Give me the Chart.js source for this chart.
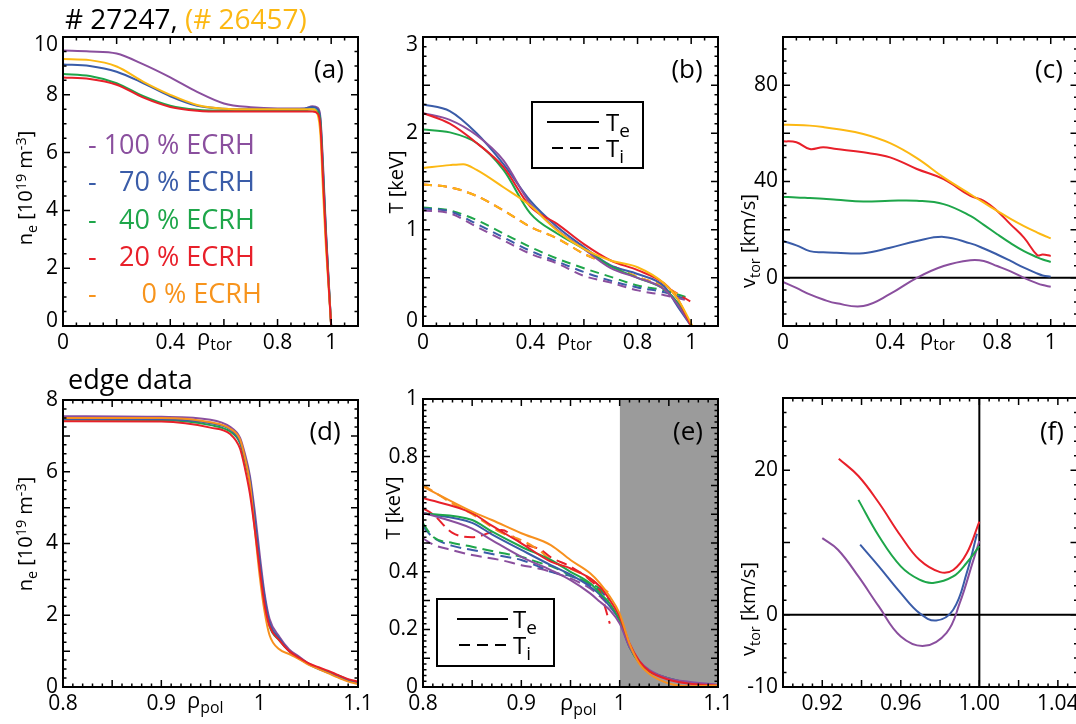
<!DOCTYPE html>
<html>
<head>
<meta charset="utf-8">
<script src="https://cdn.jsdelivr.net/npm/chart.js@4.4.0/dist/chart.umd.min.js"></script>
<style>
  body { margin: 0; background: #fff; }
  #fig { position: relative; width: 1076px; height: 724px; overflow: hidden; font-family: "Open Sans", sans-serif; color: #000; }
  #fig canvas { position: absolute; left: 0; top: 0; }
  .t { position: absolute; white-space: nowrap; line-height: 1; }
  .title { left: 65px; top: 18px; font-size: 28px; transform: translateY(-50%); }
  .tag { font-size: 26px; transform: translate(-50%, -50%); }
  .yt { font-size: 20px; transform: translate(-50%, -50%) rotate(-90deg); }
  .xt { font-size: 22px; }
  .sb { font-size: 0.72em; position: relative; top: 0.32em; }
  .sp { font-size: 0.72em; position: relative; top: -0.45em; }
  .lg { left: 88px; font-size: 27px; transform: translateY(-50%); white-space: pre; }
  .lg .d { display: inline-block; width: 14px; }
  .lg .n { display: inline-block; width: 48px; text-align: right; }
</style>
</head>
<body>
<div id="fig">
  <canvas id="cA" width="1080" height="724"></canvas>
  <canvas id="cB" width="1080" height="724"></canvas>
  <canvas id="cC" width="1080" height="724"></canvas>
  <canvas id="cD" width="1080" height="724"></canvas>
  <canvas id="cE" width="1080" height="724"></canvas>
  <canvas id="cF" width="1080" height="724"></canvas>

  <div class="t title"># 27247, <span style="color:#fcb813">(# 26457)</span></div>
  <div class="t title" style="left:68px;top:378px;font-size:27px">edge data</div>

  <div class="t lg" style="top:143px;color:#8a4f9e"><span class="d">-</span><span class="n">100</span> % ECRH</div>
  <div class="t lg" style="top:180px;color:#3a5ca8"><span class="d">-</span><span class="n">70</span> % ECRH</div>
  <div class="t lg" style="top:218px;color:#1ea64a"><span class="d">-</span><span class="n">40</span> % ECRH</div>
  <div class="t lg" style="top:255px;color:#e8202a"><span class="d">-</span><span class="n">20</span> % ECRH</div>
  <div class="t lg" style="top:292px;color:#f7941d"><span class="d">-</span><span class="n" style="width:55px">0</span> % ECRH</div>

  <div class="t tag" style="left:329px;top:68px">(a)</div>
  <div class="t tag" style="left:687px;top:68px">(b)</div>
  <div class="t tag" style="left:1049px;top:68px">(c)</div>
  <div class="t tag" style="left:325px;top:430px">(d)</div>
  <div class="t tag" style="left:688px;top:430px">(e)</div>
  <div class="t tag" style="left:1052px;top:430px">(f)</div>

  <div class="t yt" style="left:25px;top:188px">n<span class="sb">e</span> [10<span class="sp">19</span> m<span class="sp">-3</span>]</div>
  <div class="t yt" style="left:396px;top:182px">T [keV]</div>
  <div class="t yt" style="left:748px;top:241px">v<span class="sb">tor</span> [km/s]</div>
  <div class="t yt" style="left:25px;top:534px">n<span class="sb">e</span> [10<span class="sp">19</span> m<span class="sp">-3</span>]</div>
  <div class="t yt" style="left:393px;top:508px">T [keV]</div>
  <div class="t yt" style="left:748px;top:609px">v<span class="sb">tor</span> [km/s]</div>

  <div class="t xt" style="left:197px;top:325px">ρ<span class="sb">tor</span></div>
  <div class="t xt" style="left:557px;top:325px">ρ<span class="sb">tor</span></div>
  <div class="t xt" style="left:920px;top:325px">ρ<span class="sb">tor</span></div>
  <div class="t xt" style="left:187px;top:688px">ρ<span class="sb">pol</span></div>
  <div class="t xt" style="left:560px;top:690px">ρ<span class="sb">pol</span></div>
</div>

<script>
// ---- core profiles vs rho_tor ----
const rhoCore = [0, 0.1, 0.2, 0.3, 0.4, 0.5, 0.6, 0.7, 0.8, 0.9, 0.93, 0.95, 0.96, 0.97, 0.98, 0.99, 1.0];
const neCore100 = [9.53, 9.5, 9.43, 9.05, 8.6, 8.1, 7.7, 7.57, 7.53, 7.53, 7.6, 7.55, 7.2, 5.5, 3.4, 1.7, 0];
const neCore70 = [9.05, 9.0, 8.8, 8.4, 7.95, 7.62, 7.52, 7.5, 7.5, 7.52, 7.58, 7.5, 7.1, 5.3, 3.3, 1.6, 0];
const neCore40 = [8.72, 8.65, 8.4, 7.95, 7.62, 7.48, 7.45, 7.45, 7.45, 7.46, 7.5, 7.4, 7.0, 5.2, 3.2, 1.6, 0];
const neCore20 = [8.6, 8.55, 8.35, 7.9, 7.58, 7.45, 7.42, 7.42, 7.42, 7.42, 7.42, 7.35, 6.9, 5.0, 3.1, 1.5, 0];
const neCore0 = [9.24, 9.2, 8.98, 8.45, 8.0, 7.65, 7.52, 7.5, 7.5, 7.5, 7.5, 7.3, 6.6, 4.6, 2.8, 1.4, 0];

const rhoTe = [0, 0.1, 0.2, 0.3, 0.4, 0.5, 0.6, 0.7, 0.8, 0.9, 0.95, 1.0];
const teCore100 = [2.21, 2.14, 1.98, 1.72, 1.27, 1.0, 0.8, 0.6, 0.5, 0.38, 0.22, 0];
const teCore70 = [2.3, 2.23, 2.0, 1.68, 1.3, 1.03, 0.82, 0.63, 0.54, 0.41, 0.2, 0];
const teCore40 = [2.04, 2.01, 1.9, 1.62, 1.17, 0.96, 0.8, 0.62, 0.5, 0.38, 0.24, 0];
const teCore20 = [2.21, 2.1, 1.9, 1.65, 1.24, 1.06, 0.85, 0.68, 0.58, 0.44, 0.28, 0];
const rhoTe0 = [0, 0.1, 0.15, 0.2, 0.3, 0.4, 0.5, 0.6, 0.7, 0.8, 0.9, 0.95, 1.005];
const teCore0 = [1.64, 1.67, 1.68, 1.62, 1.44, 1.25, 0.99, 0.8, 0.68, 0.61, 0.44, 0.28, 0];

const rhoTi = [0, 0.1, 0.2, 0.3, 0.4, 0.5, 0.6, 0.7, 0.8, 0.9, 0.98];
const tiCore100 = [1.2, 1.17, 1.03, 0.89, 0.75, 0.65, 0.52, 0.45, 0.37, 0.32, 0.27];
const tiCore70 = [1.22, 1.19, 1.06, 0.92, 0.78, 0.67, 0.56, 0.47, 0.4, 0.35, 0.28];
const tiCore40 = [1.23, 1.2, 1.1, 0.96, 0.82, 0.7, 0.6, 0.51, 0.42, 0.37, 0.3];
const rhoTi20 = [0, 0.1, 0.2, 0.3, 0.4, 0.5, 0.6, 0.7, 0.8, 0.9, 1.0];
const tiCore20 = [1.47, 1.44, 1.35, 1.2, 1.03, 0.91, 0.75, 0.63, 0.51, 0.41, 0.25];
const rhoTi0 = [0, 0.1, 0.2, 0.3, 0.4, 0.5, 0.6, 0.7, 0.8, 0.9, 0.95];
const tiCore0 = [1.47, 1.44, 1.35, 1.2, 1.03, 0.91, 0.75, 0.63, 0.51, 0.41, 0.33];

const rhoV = [0, 0.05, 0.1, 0.15, 0.2, 0.3, 0.4, 0.5, 0.6, 0.7, 0.75, 0.8, 0.85, 0.9, 0.95, 0.97, 1.0];
const vCore100 = [-1.7, -4.2, -6.9, -9, -10.6, -11.7, -6.7, 0, 4.9, 7.3, 7.0, 4.9, 2.7, 0, -2.3, -3.0, -3.7];
const vCore70 = [15.3, 13.5, 11.1, 10.6, 10.4, 10.2, 12.5, 15.3, 17, 14.3, 12.2, 9.7, 7, 4.2, 1.8, 1.0, 0.5];
const vCore40 = [33.6, 33.4, 33.1, 32.8, 32.4, 31.7, 32, 32, 30.6, 25.7, 22, 18.1, 14.4, 11.1, 8.5, 7.6, 6.6];
const vCore20 = [56.7, 56.3, 53.5, 54.2, 53.5, 52.1, 50, 45.2, 41, 34, 32, 27.8, 22.2, 16.7, 9.4, 9.7, 9.1];
const vCore0 = [63.6, 63.5, 63.2, 62.6, 61.8, 59.7, 55.9, 49.7, 41.7, 34.7, 31.2, 27.8, 24.5, 21.5, 18.8, 17.8, 16.4];
const zeroRho = [0, 1.1];
const zeroV = [0, 0];

// ---- edge profiles vs rho_pol ----
const rhoEdge = [0.8, 0.9, 0.95, 0.97, 0.98, 0.985, 0.99, 0.995, 1.0, 1.005, 1.01, 1.02, 1.03, 1.04, 1.05, 1.06, 1.07, 1.08, 1.09, 1.1];
const neEdge100 = [7.55, 7.53, 7.45, 7.25, 6.95, 6.5, 5.9, 4.9, 3.7, 2.6, 1.9, 1.4, 1.05, 0.85, 0.65, 0.52, 0.4, 0.28, 0.18, 0.12];
const neEdge70 = [7.47, 7.46, 7.35, 7.18, 6.85, 6.4, 5.8, 4.7, 3.5, 2.5, 1.8, 1.35, 1.0, 0.82, 0.64, 0.5, 0.4, 0.3, 0.2, 0.12];
const neEdge40 = [7.45, 7.44, 7.3, 7.12, 6.8, 6.3, 5.7, 4.6, 3.4, 2.4, 1.7, 1.3, 1.0, 0.8, 0.64, 0.52, 0.42, 0.32, 0.2, 0.12];
const neEdge20 = [7.41, 7.4, 7.23, 7.05, 6.65, 6.1, 5.4, 4.4, 3.3, 2.3, 1.7, 1.3, 1.0, 0.82, 0.66, 0.55, 0.45, 0.33, 0.22, 0.15];
const neEdge0 = [7.5, 7.5, 7.38, 7.2, 6.9, 6.4, 5.7, 4.4, 3.1, 2.1, 1.45, 1.05, 0.92, 0.78, 0.62, 0.5, 0.38, 0.26, 0.15, 0.08];

const rhoEdgeTe = [0.8, 0.85, 0.87, 0.9, 0.93, 0.95, 0.97, 0.98, 0.99, 1.0, 1.01, 1.02, 1.03, 1.05, 1.07, 1.1];
const teEdge100 = [0.605, 0.55, 0.51, 0.452, 0.406, 0.371, 0.325, 0.296, 0.267, 0.22, 0.139, 0.09, 0.06, 0.03, 0.018, 0.008];
const teEdge70 = [0.603, 0.57, 0.53, 0.476, 0.423, 0.39, 0.348, 0.32, 0.28, 0.23, 0.14, 0.085, 0.055, 0.03, 0.015, 0.005];
const teEdge40 = [0.603, 0.58, 0.54, 0.487, 0.441, 0.4, 0.36, 0.325, 0.29, 0.232, 0.139, 0.085, 0.055, 0.03, 0.015, 0.005];
const teEdge20 = [0.656, 0.604, 0.56, 0.499, 0.435, 0.412, 0.377, 0.348, 0.302, 0.244, 0.151, 0.09, 0.055, 0.025, 0.012, 0.005];
const teEdge0 = [0.696, 0.609, 0.58, 0.534, 0.493, 0.441, 0.395, 0.36, 0.314, 0.255, 0.151, 0.081, 0.046, 0.012, 0.003, 0.005];

const rhoEdgeTi = [0.8, 0.81, 0.83, 0.85, 0.88, 0.9, 0.92, 0.93, 0.95, 0.97, 0.98, 0.99];
const tiEdge100 = [0.516, 0.495, 0.475, 0.458, 0.44, 0.423, 0.41, 0.4, 0.377, 0.342, 0.315, 0.279];
const tiEdge70 = [0.557, 0.52, 0.49, 0.476, 0.455, 0.441, 0.415, 0.4, 0.385, 0.355, 0.335, 0.3];
const tiEdge40 = [0.568, 0.522, 0.5, 0.487, 0.465, 0.452, 0.43, 0.42, 0.388, 0.36, 0.34, 0.302];
const tiEdge20 = [0.62, 0.6, 0.535, 0.52, 0.545, 0.5, 0.476, 0.45, 0.418, 0.371, 0.33, 0.22];
const tiEdge0 = [0.701, 0.68, 0.637, 0.6, 0.535, 0.51, 0.47, 0.44, 0.41, 0.377, 0.35, 0.325];
const shadeRho = [1.0, 1.1];
const shadeTop = [1, 1];

const rhoVe100 = [0.92, 0.928, 0.9384, 0.9488, 0.96, 0.972, 0.9833, 0.99, 0.997, 1.0];
const vEdge100 = [10.6, 9.0, 5.3, 1.15, -3.0, -4.3, -2.5, 1.6, 7.6, 10.2];
const rhoVe70 = [0.9393, 0.9488, 0.96, 0.9695, 0.978, 0.9867, 0.9936, 0.9988];
const vEdge70 = [9.7, 6.7, 3.0, 0.23, -0.8, 0.7, 5.8, 11.2];
const rhoVe40 = [0.9384, 0.9488, 0.96, 0.9695, 0.9764, 0.9867, 0.9936, 1.0];
const vEdge40 = [15.9, 10.9, 6.7, 4.85, 4.4, 5.3, 7.2, 9.5];
const rhoVe20 = [0.9284, 0.9384, 0.9488, 0.96, 0.9695, 0.98, 0.9867, 0.9936, 1.0];
const vEdge20 = [21.6, 19.2, 15.5, 10.9, 7.6, 5.9, 6.2, 8.5, 12.9];
const zeroRhoPol = [0.9, 1.05];
const sepRho = [1.0, 1.0];
const sepV = [-10, 30];

// ---- tick labels ----
const tickCoreX = [0, 0.4, 0.8, 1];
const tickCoreXText = ['0', '0.4', '0.8', '1'];
const tickEdgeX = [0.8, 0.9, 1, 1.1];
const tickEdgeXText = ['0.8', '0.9', '1', '1.1'];
const tickVelX = [0.92, 0.96, 1.0, 1.04];
const tickVelXText = ['0.92', '0.96', '1.00', '1.04'];
const tickNeY = [0, 2, 4, 6, 8, 10];
const tickNeYText = ['0', '2', '4', '6', '8', '10'];
const tickTY = [0, 1, 2, 3];
const tickTYText = ['0', '1', '2', '3'];
const tickVY = [0, 40, 80];
const tickVYText = ['0', '40', '80'];
const tickNeEdgeY = [0, 2, 4, 6, 8];
const tickNeEdgeYText = ['0', '2', '4', '6', '8'];
const tickTEdgeY = [0, 0.2, 0.4, 0.8, 1];
const tickTEdgeYText = ['0', '0.2', '0.4', '0.8', '1'];
const tickVEdgeY = [-10, 0, 20];
const tickVEdgeYText = ['-10', '0', '20'];
const keyLabels = [['T', 'e'], ['T', 'i']];

const PURPLE = '#8a4f9e', BLUE = '#3a5ca8', GREEN = '#1ea64a', RED = '#e8202a', YELLOW = '#fcb813', ORANGE = '#f7901e';
const W = 1080, H = 724;

const xy = (xs, ys) => ys.map((v, i) => ({ x: xs[i], y: v }));

function line(xs, ys, color, dash, smooth) {
    const ds = {
        data: xy(xs, ys),
        borderColor: color,
        borderWidth: 2,
        borderDash: dash || [],
        pointRadius: 0,
        fill: false
    };
    if (smooth) ds.tension = 0.4;
    else ds.cubicInterpolationMode = 'monotone';
    return ds;
}

// IDL-style box axes: inward ticks on all four sides, labels on left/bottom
function idlAxes(o) {
    return {
        id: 'idlAxes',
        afterDatasetsDraw(chart) {
            const ctx = chart.ctx, a = chart.chartArea;
            const sx = chart.scales.x, sy = chart.scales.y;
            const steps = (s, st) => {
                const n = Math.round((s.max - s.min) / st);
                return Array.from({ length: n + 1 }, (_, i) => s.min + i * st);
            };
            const onGrid = (v, st) => Math.abs(v / st - Math.round(v / st)) < 1e-6;

            ctx.save();
            ctx.strokeStyle = '#000';
            ctx.lineWidth = 1.5;
            ctx.beginPath();
            steps(sx, o.xMinor).forEach(v => {
                const len = onGrid(v, o.xMajor) ? 7 : 3.5;
                const px = sx.getPixelForValue(v);
                ctx.moveTo(px, a.bottom); ctx.lineTo(px, a.bottom - len);
                ctx.moveTo(px, a.top); ctx.lineTo(px, a.top + len);
            });
            steps(sy, o.yMinor).forEach(v => {
                const len = onGrid(v, o.yMajor) ? 7 : 3.5;
                const py = sy.getPixelForValue(v);
                ctx.moveTo(a.left, py); ctx.lineTo(a.left + len, py);
                ctx.moveTo(a.right, py); ctx.lineTo(a.right - len, py);
            });
            ctx.stroke();

            ctx.lineWidth = 2;
            ctx.strokeRect(a.left, a.top, a.right - a.left, a.bottom - a.top);

            ctx.fillStyle = '#000';
            ctx.font = '21px "Open Sans"';
            ctx.textAlign = 'center';
            ctx.textBaseline = 'middle';
            o.xTicks.forEach((v, i) => ctx.fillText(o.xText[i], sx.getPixelForValue(v), a.bottom + 17));
            ctx.textAlign = 'right';
            o.yTicks.forEach((v, i) => {
                let py = sy.getPixelForValue(v);
                if (o.clampY) py = Math.min(Math.max(py, a.top + 8), a.bottom - 5);
                ctx.fillText(o.yText[i], a.left - 5, py);
            });

            // T_e / T_i key
            const k = o.key;
            if (k) {
                ctx.lineWidth = 2;
                ctx.strokeRect(k.x0, k.y0, k.x1 - k.x0, k.y1 - k.y0);
                ctx.beginPath();
                ctx.moveTo(k.lx0, k.ys); ctx.lineTo(k.lx1, k.ys);
                ctx.stroke();
                ctx.setLineDash([11, 7]);
                ctx.beginPath();
                ctx.moveTo(k.ldx0, k.yd); ctx.lineTo(k.lx1, k.yd);
                ctx.stroke();
                ctx.setLineDash([]);
                ctx.textAlign = 'left';
                ctx.textBaseline = 'alphabetic';
                [k.ys, k.yd].forEach((ly, i) => {
                    ctx.font = '24px "Open Sans"';
                    ctx.fillText(keyLabels[i][0], k.tx, ly + 9);
                    const w = ctx.measureText(keyLabels[i][0]).width;
                    ctx.font = '19px "Open Sans"';
                    ctx.fillText(keyLabels[i][1], k.tx + w, ly + 15);
                });
            }
            ctx.restore();
        }
    };
}

function makeChart(id, box, xr, yr, datasets, axes) {
    return new Chart(document.getElementById(id), {
        type: 'line',
        data: { datasets: datasets },
        options: {
            responsive: false,
            animation: false,
            events: [],
            layout: { padding: { left: box[0], top: box[1], right: W - box[2], bottom: H - box[3] } },
            scales: {
                x: { type: 'linear', min: xr[0], max: xr[1], display: false },
                y: { type: 'linear', min: yr[0], max: yr[1], display: false }
            },
            plugins: { legend: { display: false }, tooltip: { enabled: false } }
        },
        plugins: [idlAxes(axes)]
    });
}

const DASH_CORE = [9, 6], DASH_EDGE = [11, 6];

// (a) core density
makeChart('cA', [63, 37, 358, 326], [0, 1.1], [0, 10], [
    line(rhoCore, neCore20, RED),
    line(rhoCore, neCore0, YELLOW),
    line(rhoCore, neCore40, GREEN),
    line(rhoCore, neCore70, BLUE),
    line(rhoCore, neCore100, PURPLE)
], { xMajor: 0.2, xMinor: 0.05, yMajor: 2, yMinor: 0.5, clampY: true,
     xTicks: tickCoreX, xText: tickCoreXText, yTicks: tickNeY, yText: tickNeYText });

// (b) core temperatures
makeChart('cB', [423, 37, 718, 326], [0, 1.1], [0, 3], [
    line(rhoTe0, teCore0, YELLOW),
    line(rhoTe, teCore20, RED),
    line(rhoTe, teCore100, PURPLE),
    line(rhoTe, teCore40, GREEN),
    line(rhoTe, teCore70, BLUE),
    line(rhoTi0, tiCore0, YELLOW, DASH_CORE),
    line(rhoTi20, tiCore20, RED, DASH_CORE),
    line(rhoTi, tiCore100, PURPLE, DASH_CORE),
    line(rhoTi, tiCore70, BLUE, DASH_CORE),
    line(rhoTi, tiCore40, GREEN, DASH_CORE)
], { xMajor: 0.2, xMinor: 0.05, yMajor: 0.5, yMinor: 0.1, clampY: true,
     xTicks: tickCoreX, xText: tickCoreXText, yTicks: tickTY, yText: tickTYText,
     key: { x0: 532, y0: 102, x1: 643, y1: 168, ys: 122, yd: 148, lx0: 547, ldx0: 552, lx1: 599, tx: 606 } });

// (c) core toroidal rotation
makeChart('cC', [783, 37, 1077.5, 326], [0, 1.1], [-20, 100], [
    line(rhoV, vCore0, YELLOW, null, true),
    line(rhoV, vCore20, RED, null, true),
    line(rhoV, vCore40, GREEN, null, true),
    line(rhoV, vCore70, BLUE, null, true),
    line(rhoV, vCore100, PURPLE, null, true),
    line(zeroRho, zeroV, '#000')
], { xMajor: 0.2, xMinor: 0.05, yMajor: 20, yMinor: 5,
     xTicks: tickCoreX, xText: tickCoreXText, yTicks: tickVY, yText: tickVYText });

// (d) edge density
makeChart('cD', [63, 400, 358, 687], [0.8, 1.1], [0, 8], [
    line(rhoEdge, neEdge20, RED),
    line(rhoEdge, neEdge0, ORANGE),
    line(rhoEdge, neEdge70, BLUE),
    line(rhoEdge, neEdge40, GREEN),
    line(rhoEdge, neEdge100, PURPLE)
], { xMajor: 0.05, xMinor: 0.01, yMajor: 1, yMinor: 0.25,
     xTicks: tickEdgeX, xText: tickEdgeXText, yTicks: tickNeEdgeY, yText: tickNeEdgeYText });

// (e) edge temperatures, SOL shaded
makeChart('cE', [423, 399, 718, 687], [0.8, 1.1], [0, 1], [
    line(rhoEdgeTe, teEdge0, ORANGE),
    line(rhoEdgeTe, teEdge20, RED),
    line(rhoEdgeTe, teEdge100, PURPLE),
    line(rhoEdgeTe, teEdge40, GREEN),
    line(rhoEdgeTe, teEdge70, BLUE),
    line(rhoEdgeTi, tiEdge0, ORANGE, DASH_EDGE),
    line(rhoEdgeTi, tiEdge20, RED, DASH_EDGE),
    line(rhoEdgeTi, tiEdge40, GREEN, DASH_EDGE),
    line(rhoEdgeTi, tiEdge70, BLUE, DASH_EDGE),
    line(rhoEdgeTi, tiEdge100, PURPLE, DASH_EDGE),
    { data: xy(shadeRho, shadeTop), borderWidth: 0, pointRadius: 0, backgroundColor: '#9b9b9b', fill: 'origin' }
], { xMajor: 0.05, xMinor: 0.01, yMajor: 0.1, yMinor: 0.02,
     xTicks: tickEdgeX, xText: tickEdgeXText, yTicks: tickTEdgeY, yText: tickTEdgeYText,
     key: { x0: 437, y0: 599, x1: 554, y1: 666, ys: 619, yd: 645, lx0: 457, ldx0: 459, lx1: 508, tx: 513 } });

// (f) edge toroidal rotation
makeChart('cF', [783, 398, 1077.5, 687], [0.9, 1.05], [-10, 30], [
    line(rhoVe20, vEdge20, RED, null, true),
    line(rhoVe40, vEdge40, GREEN, null, true),
    line(rhoVe70, vEdge70, BLUE, null, true),
    line(rhoVe100, vEdge100, PURPLE, null, true),
    line(zeroRhoPol, zeroV, '#000'),
    line(sepRho, sepV, '#000')
], { xMajor: 0.02, xMinor: 0.005, yMajor: 10, yMinor: 2,
     xTicks: tickVelX, xText: tickVelXText, yTicks: tickVEdgeY, yText: tickVEdgeYText });
</script>
</body>
</html>
